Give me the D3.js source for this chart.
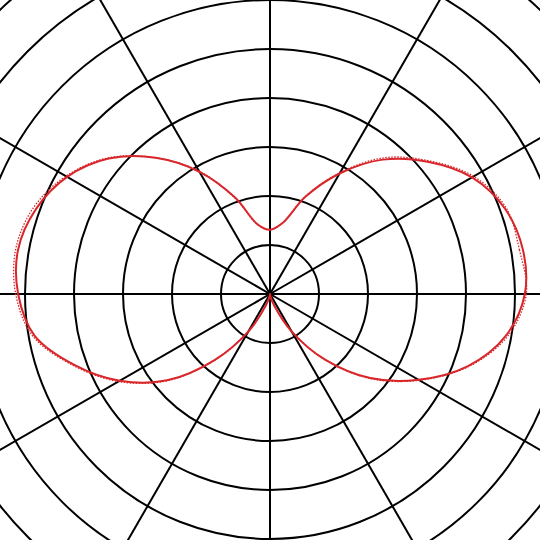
<!DOCTYPE html>
<html>
<head>
<meta charset="utf-8">
<script src="https://cdn.jsdelivr.net/npm/d3@7.9.0/dist/d3.min.js"></script>
<style>
  html, body { margin: 0; padding: 0; background: #fff; }
  svg { display: block; }
</style>
</head>
<body>
<svg id="chart" width="540" height="540"></svg>
<script>
// angles in degrees, counter-clockwise from the right-hand axis
const angles = d3.range(0, 360, 10);

// measured pattern (solid) and second pass (dotted), in ring units
const solidR = [5.20, 5.24, 5.10, 4.76, 4.20, 3.58, 2.84, 2.11, 1.47, 1.31, 1.44, 2.10,
                2.88, 3.63, 4.30, 4.78, 5.08, 5.22, 5.14, 4.88, 4.24, 3.54, 2.74, 1.76,
                0.88, 0.25, 0.05, 0.00, 0.05, 0.25, 0.88, 1.75, 2.67, 3.50, 4.30, 4.89];
const dottedR = [5.23, 5.17, 5.13, 4.80, 4.23, 3.63, 2.86, 2.12, 1.47, 1.31, 1.43, 2.08,
                 2.90, 3.63, 4.32, 4.81, 5.14, 5.27, 5.19, 4.92, 4.27, 3.57, 2.76, 1.77,
                 0.88, 0.25, 0.05, 0.00, 0.05, 0.25, 0.88, 1.76, 2.69, 3.52, 4.32, 4.93];

const rings = d3.range(1, 10);        // grid circles
const spokes = d3.range(0, 360, 30);  // grid spokes

const svg = d3.select('#chart');
const cx = 270, cy = 294;

const r = d3.scaleLinear().domain([0, 1]).range([0, 49]);
const toRad = deg => (90 - deg) * Math.PI / 180;

const g = svg.append('g').attr('transform', `translate(${cx},${cy})`);

// rings
g.selectAll('circle.ring')
  .data(rings)
  .join('circle')
  .attr('class', 'ring')
  .attr('r', d => r(d))
  .attr('fill', 'none')
  .attr('stroke', '#000')
  .attr('stroke-width', 2);

// spokes
g.selectAll('line.spoke')
  .data(spokes)
  .join('line')
  .attr('class', 'spoke')
  .attr('x1', 0).attr('y1', 0)
  .attr('x2', d => Math.cos(d * Math.PI / 180) * r(10))
  .attr('y2', d => -Math.sin(d * Math.PI / 180) * r(10))
  .attr('stroke', '#000')
  .attr('stroke-width', 2);

const line = d3.lineRadial()
  .angle(d => toRad(d[0]))
  .radius(d => r(d[1]))
  .curve(d3.curveCatmullRomClosed.alpha(0.5));

// dotted trace
g.append('path')
  .attr('d', line(angles.map((a, i) => [a, dottedR[i]])))
  .attr('fill', 'none')
  .attr('stroke', '#d8262b')
  .attr('stroke-width', 1.3)
  .attr('stroke-dasharray', '1.5,1.5');

// solid trace
g.append('path')
  .attr('d', line(angles.map((a, i) => [a, solidR[i]])))
  .attr('fill', 'none')
  .attr('stroke', '#d8262b')
  .attr('stroke-width', 2);
</script>
</body>
</html>
